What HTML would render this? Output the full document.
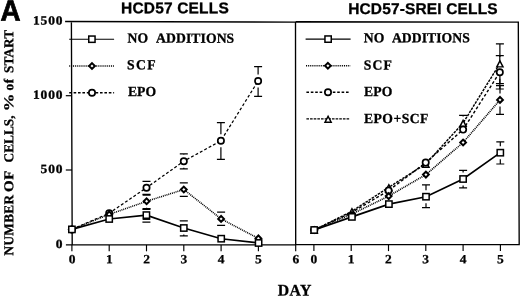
<!DOCTYPE html>
<html><head><meta charset="utf-8"><title>Figure A</title>
<style>html,body{margin:0;padding:0;background:#fff}svg{display:block}text{fill:#000;text-rendering:geometricPrecision}</style></head>
<body><svg width="520" height="296" viewBox="0 0 520 296">
<rect width="520" height="296" fill="#fff"/>
<path d="M65.1 21.5L295.7 22.1M295.7 21.7L518.3 22.1M71.4 21.5L72.2 244.9M65.9 244.9H295.7M295.7 244.6H519.2M518.3 21.5L519.2 245.2M295.5 21.8L295.7 244.9" fill="none" stroke="#000" stroke-width="1.35"/>
<path d="M65.8 170.00H72" stroke="#000" stroke-width="1.2"/>
<path d="M65.8 95.70H72" stroke="#000" stroke-width="1.2"/>
<path d="M71.90 244.9V251.3" stroke="#000" stroke-width="1.15"/>
<path d="M109.20 244.9V251.3" stroke="#000" stroke-width="1.15"/>
<path d="M146.50 244.9V251.3" stroke="#000" stroke-width="1.15"/>
<path d="M183.80 244.9V251.3" stroke="#000" stroke-width="1.15"/>
<path d="M221.10 244.9V251.3" stroke="#000" stroke-width="1.15"/>
<path d="M258.40 244.9V251.3" stroke="#000" stroke-width="1.15"/>
<path d="M295.70 244.9V251.3" stroke="#000" stroke-width="1.15"/>
<path d="M313.90 244.6V251.1" stroke="#000" stroke-width="1.15"/>
<path d="M351.20 244.6V251.1" stroke="#000" stroke-width="1.15"/>
<path d="M388.50 244.6V251.1" stroke="#000" stroke-width="1.15"/>
<path d="M425.80 244.6V251.1" stroke="#000" stroke-width="1.15"/>
<path d="M463.10 244.6V251.1" stroke="#000" stroke-width="1.15"/>
<path d="M500.40 244.6V251.1" stroke="#000" stroke-width="1.15"/>
<text transform="matrix(1.08 0.0005 0 1 63.364 247.9)" text-anchor="end" style='font-family:"Liberation Serif",serif;font-weight:bold;font-size:12.5px;letter-spacing:0.8px;stroke:#000;stroke-width:0.3px;' >0</text>
<text transform="matrix(1.08 0.0005 0 1 63.364 173.0)" text-anchor="end" style='font-family:"Liberation Serif",serif;font-weight:bold;font-size:12.5px;letter-spacing:0.8px;stroke:#000;stroke-width:0.3px;' >500</text>
<text transform="matrix(1.08 0.0005 0 1 63.364 98.7)" text-anchor="end" style='font-family:"Liberation Serif",serif;font-weight:bold;font-size:12.5px;letter-spacing:0.8px;stroke:#000;stroke-width:0.3px;' >1000</text>
<text transform="matrix(1.08 0.0005 0 1 63.364 24.5)" text-anchor="end" style='font-family:"Liberation Serif",serif;font-weight:bold;font-size:12.5px;letter-spacing:0.8px;stroke:#000;stroke-width:0.3px;' >1500</text>
<text transform="matrix(1.08 0.0005 0 1 72.0 263.3)" text-anchor="middle" style='font-family:"Liberation Serif",serif;font-weight:bold;font-size:12.5px;stroke:#000;stroke-width:0.25px;' >0</text>
<text transform="matrix(1.08 0.0005 0 1 109.3 263.3)" text-anchor="middle" style='font-family:"Liberation Serif",serif;font-weight:bold;font-size:12.5px;stroke:#000;stroke-width:0.25px;' >1</text>
<text transform="matrix(1.08 0.0005 0 1 146.6 263.3)" text-anchor="middle" style='font-family:"Liberation Serif",serif;font-weight:bold;font-size:12.5px;stroke:#000;stroke-width:0.25px;' >2</text>
<text transform="matrix(1.08 0.0005 0 1 183.9 263.3)" text-anchor="middle" style='font-family:"Liberation Serif",serif;font-weight:bold;font-size:12.5px;stroke:#000;stroke-width:0.25px;' >3</text>
<text transform="matrix(1.08 0.0005 0 1 221.2 263.3)" text-anchor="middle" style='font-family:"Liberation Serif",serif;font-weight:bold;font-size:12.5px;stroke:#000;stroke-width:0.25px;' >4</text>
<text transform="matrix(1.08 0.0005 0 1 258.5 263.3)" text-anchor="middle" style='font-family:"Liberation Serif",serif;font-weight:bold;font-size:12.5px;stroke:#000;stroke-width:0.25px;' >5</text>
<text transform="matrix(1.08 0.0005 0 1 295.8 263.3)" text-anchor="middle" style='font-family:"Liberation Serif",serif;font-weight:bold;font-size:12.5px;stroke:#000;stroke-width:0.25px;' >6</text>
<text transform="matrix(1.08 0.0005 0 1 313.8 263.3)" text-anchor="middle" style='font-family:"Liberation Serif",serif;font-weight:bold;font-size:12.5px;stroke:#000;stroke-width:0.25px;' >0</text>
<text transform="matrix(1.08 0.0005 0 1 351.1 263.3)" text-anchor="middle" style='font-family:"Liberation Serif",serif;font-weight:bold;font-size:12.5px;stroke:#000;stroke-width:0.25px;' >1</text>
<text transform="matrix(1.08 0.0005 0 1 388.4 263.3)" text-anchor="middle" style='font-family:"Liberation Serif",serif;font-weight:bold;font-size:12.5px;stroke:#000;stroke-width:0.25px;' >2</text>
<text transform="matrix(1.08 0.0005 0 1 425.7 263.3)" text-anchor="middle" style='font-family:"Liberation Serif",serif;font-weight:bold;font-size:12.5px;stroke:#000;stroke-width:0.25px;' >3</text>
<text transform="matrix(1.08 0.0005 0 1 463.0 263.3)" text-anchor="middle" style='font-family:"Liberation Serif",serif;font-weight:bold;font-size:12.5px;stroke:#000;stroke-width:0.25px;' >4</text>
<text transform="matrix(1.08 0.0005 0 1 500.3 263.3)" text-anchor="middle" style='font-family:"Liberation Serif",serif;font-weight:bold;font-size:12.5px;stroke:#000;stroke-width:0.25px;' >5</text>
<text transform="matrix(0.94 0.0005 0 1 0.6 20.5)" text-anchor="start" style='font-family:"Liberation Sans",sans-serif;font-weight:bold;font-size:29.5px;stroke:#000;stroke-width:0.75px;' >A</text>
<text transform="matrix(1 0.0005 0 1 121.1 13.25)" text-anchor="start" style='font-family:"Liberation Sans",sans-serif;font-weight:bold;font-size:15.5px;letter-spacing:0.17px;stroke:#000;stroke-width:0.3px;' >HCD57 CELLS</text>
<text transform="matrix(1 0.0005 0 1 348.2 14.0)" text-anchor="start" style='font-family:"Liberation Sans",sans-serif;font-weight:bold;font-size:15.5px;letter-spacing:0.14px;stroke:#000;stroke-width:0.3px;' >HCD57-SREI CELLS</text>
<text transform="matrix(0.98 0.0005 0 1 277.7 295.6)" text-anchor="start" style='font-family:"Liberation Serif",serif;font-weight:bold;font-size:16.1px;letter-spacing:0.45px;stroke:#000;stroke-width:0.3px;' >DAY</text>
<g transform="translate(13.3 256.0) rotate(-90)"><text transform="matrix(0.98 0.0005 0 1 0.6 0)" text-anchor="start" style='font-family:"Liberation Serif",serif;font-weight:bold;font-size:13.55px;letter-spacing:0.3px;stroke:#000;stroke-width:0.28px;' >NUMBER</text><text transform="matrix(1.1074 0.0005 0 1 64.1 0)" text-anchor="start" style='font-family:"Liberation Serif",serif;font-weight:bold;font-size:13.55px;letter-spacing:0.5px;stroke:#000;stroke-width:0.28px;' >OF</text><text transform="matrix(0.98 0.0005 0 1 93.6 0)" text-anchor="start" style='font-family:"Liberation Serif",serif;font-weight:bold;font-size:13.55px;stroke:#000;stroke-width:0.28px;' >CELLS,</text><text transform="matrix(1.3034000000000001 0.0005 0 1 144.7 0)" text-anchor="start" style='font-family:"Liberation Serif",serif;font-weight:bold;font-size:13.55px;stroke:#000;stroke-width:0.28px;' >%</text><text transform="matrix(0.98 0.0005 0 1 165.4 0)" text-anchor="start" style='font-family:"Liberation Serif",serif;font-weight:bold;font-size:13.55px;letter-spacing:0.6px;stroke:#000;stroke-width:0.28px;' >of</text><text transform="matrix(0.98 0.0005 0 1 182.9 0)" text-anchor="start" style='font-family:"Liberation Serif",serif;font-weight:bold;font-size:13.55px;letter-spacing:0.1px;stroke:#000;stroke-width:0.28px;' >START</text></g>
<path d="M69.2 39.2H114.1" fill="none" stroke="#000" stroke-width="1.1" />
<rect x="88.75" y="36.05" width="6.30" height="6.30" fill="#fff" stroke="#000" stroke-width="1.5"/>
<text transform="matrix(0.99 0.0005 0 1 127.6 42.6)" text-anchor="start" style='font-family:"Liberation Serif",serif;font-weight:bold;font-size:13.8px;letter-spacing:0.1px;word-spacing:5.0px;stroke:#000;stroke-width:0.28px;' >NO ADDITIONS</text>
<path d="M69.2 66.0H114.1" fill="none" stroke="#000" stroke-width="1.55" stroke-dasharray="1 0.9"/>
<path d="M92.00 63.11L94.89 66.00L92.00 68.89L89.11 66.00Z" fill="#fff" stroke="#000" stroke-width="2.0"/>
<text transform="matrix(0.99 0.0005 0 1 127.0 69.3)" text-anchor="start" style='font-family:"Liberation Serif",serif;font-weight:bold;font-size:13.8px;letter-spacing:1.35px;stroke:#000;stroke-width:0.28px;' >SCF</text>
<path d="M69.2 92.7H114.1" fill="none" stroke="#000" stroke-width="1.4" stroke-dasharray="2.6 1.8"/>
<circle cx="92.00" cy="92.70" r="3.15" fill="#fff" stroke="#000" stroke-width="1.7"/>
<text transform="matrix(0.99 0.0005 0 1 127.9 96.1)" text-anchor="start" style='font-family:"Liberation Serif",serif;font-weight:bold;font-size:13.8px;letter-spacing:0.1px;stroke:#000;stroke-width:0.28px;' >EPO</text>
<path d="M305.6 39.1H350.6" fill="none" stroke="#000" stroke-width="1.1" />
<rect x="324.95" y="35.95" width="6.30" height="6.30" fill="#fff" stroke="#000" stroke-width="1.5"/>
<text transform="matrix(0.99 0.0005 0 1 363.8 42.25)" text-anchor="start" style='font-family:"Liberation Serif",serif;font-weight:bold;font-size:13.8px;letter-spacing:0.05px;word-spacing:4.9px;stroke:#000;stroke-width:0.28px;' >NO ADDITIONS</text>
<path d="M306 65.8H350.2" fill="none" stroke="#000" stroke-width="1.55" stroke-dasharray="1 0.9"/>
<path d="M327.90 62.91L330.79 65.80L327.90 68.69L325.01 65.80Z" fill="#fff" stroke="#000" stroke-width="2.0"/>
<text transform="matrix(0.99 0.0005 0 1 363.7 69.45)" text-anchor="start" style='font-family:"Liberation Serif",serif;font-weight:bold;font-size:13.8px;letter-spacing:1.15px;stroke:#000;stroke-width:0.28px;' >SCF</text>
<path d="M306.4 92.3H349" fill="none" stroke="#000" stroke-width="1.4" stroke-dasharray="2.6 1.8"/>
<circle cx="328.00" cy="92.30" r="3.15" fill="#fff" stroke="#000" stroke-width="1.7"/>
<text transform="matrix(0.99 0.0005 0 1 364 96.0)" text-anchor="start" style='font-family:"Liberation Serif",serif;font-weight:bold;font-size:13.8px;letter-spacing:0.1px;stroke:#000;stroke-width:0.28px;' >EPO</text>
<path d="M306.4 118.9H350.2" fill="none" stroke="#000" stroke-width="1.3" stroke-dasharray="2.6 1.05"/>
<path d="M328.10 116.31L331.20 122.25L325.00 122.25Z" fill="#fff" stroke="#000" stroke-width="1.45" stroke-linejoin="miter"/>
<text transform="matrix(0.99 0.0005 0 1 364 122.9)" text-anchor="start" style='font-family:"Liberation Serif",serif;font-weight:bold;font-size:13.8px;letter-spacing:0.45px;stroke:#000;stroke-width:0.28px;' >EPO+SCF</text>
<path d="M71.90 229.40L109.20 213.20L146.50 187.70L183.80 161.20L220.90 140.80L258.10 81.00" fill="none" stroke="#000" stroke-width="1.25" stroke-dasharray="2.9 2.1"/>
<path d="M71.90 229.40L109.20 214.40L146.60 201.30L183.80 189.50L221.10 218.90L258.40 238.40" fill="none" stroke="#000" stroke-width="1.55" stroke-dasharray="1 0.9"/>
<path d="M71.90 229.40L109.20 219.00L146.40 215.10L183.80 228.00L221.20 238.70L258.60 243.00" fill="none" stroke="#000" stroke-width="1.65" />
<path d="M142.50 181.30h8.0M142.50 194.30h8.0M146.50 194.30V194.20" fill="none" stroke="#000" stroke-width="1.2"/>
<path d="M179.80 153.90h8.0M183.80 153.90V154.70M179.80 168.80h8.0M183.80 168.80V167.70" fill="none" stroke="#000" stroke-width="1.2"/>
<path d="M216.90 122.60h8.0M220.90 122.60V134.30M216.90 159.30h8.0M220.90 159.30V147.30" fill="none" stroke="#000" stroke-width="1.2"/>
<path d="M254.10 66.60h8.0M258.10 66.60V74.50M254.10 96.40h8.0M258.10 96.40V87.50" fill="none" stroke="#000" stroke-width="1.2"/>
<path d="M142.60 195.20h8.0M142.60 208.60h8.0M146.60 208.60V207.80" fill="none" stroke="#000" stroke-width="1.2"/>
<path d="M179.80 182.90h8.0M183.80 182.90V183.00M179.80 196.30h8.0M183.80 196.30V196.00" fill="none" stroke="#000" stroke-width="1.2"/>
<path d="M217.10 212.10h8.0M221.10 212.10V212.40M217.10 225.30h8.0" fill="none" stroke="#000" stroke-width="1.2"/>
<path d="M142.40 209.40h8.0M142.40 222.20h8.0M146.40 222.20V221.60" fill="none" stroke="#000" stroke-width="1.2"/>
<path d="M179.80 220.90h8.0M183.80 220.90V221.50M179.80 235.80h8.0M183.80 235.80V234.50" fill="none" stroke="#000" stroke-width="1.2"/>
<circle cx="71.90" cy="229.40" r="3.15" fill="#fff" stroke="#000" stroke-width="1.7"/>
<circle cx="109.20" cy="213.20" r="3.15" fill="#fff" stroke="#000" stroke-width="1.7"/>
<circle cx="146.50" cy="187.70" r="3.15" fill="#fff" stroke="#000" stroke-width="1.7"/>
<circle cx="183.80" cy="161.20" r="3.15" fill="#fff" stroke="#000" stroke-width="1.7"/>
<circle cx="220.90" cy="140.80" r="3.15" fill="#fff" stroke="#000" stroke-width="1.7"/>
<circle cx="258.10" cy="81.00" r="3.15" fill="#fff" stroke="#000" stroke-width="1.7"/>
<path d="M71.90 226.51L74.79 229.40L71.90 232.29L69.01 229.40Z" fill="#fff" stroke="#000" stroke-width="2.0"/>
<path d="M109.20 211.51L112.09 214.40L109.20 217.29L106.31 214.40Z" fill="#fff" stroke="#000" stroke-width="2.0"/>
<path d="M146.60 198.41L149.49 201.30L146.60 204.19L143.71 201.30Z" fill="#fff" stroke="#000" stroke-width="2.0"/>
<path d="M183.80 186.61L186.69 189.50L183.80 192.39L180.91 189.50Z" fill="#fff" stroke="#000" stroke-width="2.0"/>
<path d="M221.10 216.01L223.99 218.90L221.10 221.79L218.21 218.90Z" fill="#fff" stroke="#000" stroke-width="2.0"/>
<path d="M258.40 235.51L261.29 238.40L258.40 241.29L255.51 238.40Z" fill="#fff" stroke="#000" stroke-width="2.0"/>
<rect x="68.75" y="226.25" width="6.30" height="6.30" fill="#fff" stroke="#000" stroke-width="1.5"/>
<rect x="106.05" y="215.85" width="6.30" height="6.30" fill="#fff" stroke="#000" stroke-width="1.5"/>
<rect x="143.25" y="211.95" width="6.30" height="6.30" fill="#fff" stroke="#000" stroke-width="1.5"/>
<rect x="180.65" y="224.85" width="6.30" height="6.30" fill="#fff" stroke="#000" stroke-width="1.5"/>
<rect x="218.05" y="235.55" width="6.30" height="6.30" fill="#fff" stroke="#000" stroke-width="1.5"/>
<rect x="255.45" y="239.85" width="6.30" height="6.30" fill="#fff" stroke="#000" stroke-width="1.5"/>
<path d="M142.6 219.4h7.7" stroke="#000" stroke-width="1.1"/>
<path d="M314.20 230.00L351.90 211.30L388.80 187.30L425.90 163.80L463.10 123.00L499.90 63.50" fill="none" stroke="#000" stroke-width="1.45" stroke-dasharray="2.6 1.05"/>
<path d="M314.20 230.00L351.90 212.40L388.60 190.60L425.70 162.60L463.10 129.60L499.80 72.20" fill="none" stroke="#000" stroke-width="1.4" stroke-dasharray="2.9 2.1"/>
<path d="M314.20 230.00L351.90 214.00L388.70 196.10L425.90 174.60L463.10 142.50L500.00 99.90" fill="none" stroke="#000" stroke-width="1.65" stroke-dasharray="1 0.9"/>
<path d="M314.20 230.00L351.90 216.90L388.90 204.10L426.00 196.70L463.10 179.00L500.30 152.70" fill="none" stroke="#000" stroke-width="1.65" />
<path d="M459.10 115.30h8.0M463.10 115.30V116.50" fill="none" stroke="#000" stroke-width="1.2"/>
<path d="M495.90 43.80h8.0M499.90 43.80V57.00M495.90 83.70h8.0M499.90 83.70V70.00" fill="none" stroke="#000" stroke-width="1.2"/>
<path d="M495.80 55.70h8.0M499.80 55.70V65.70M495.80 89.00h8.0M499.80 89.00V78.70" fill="none" stroke="#000" stroke-width="1.2"/>
<path d="M496.00 85.60h8.0M500.00 85.60V93.40M496.00 114.30h8.0M500.00 114.30V106.40" fill="none" stroke="#000" stroke-width="1.2"/>
<path d="M422.00 184.80h8.0M426.00 184.80V190.20M422.00 207.60h8.0M426.00 207.60V203.20" fill="none" stroke="#000" stroke-width="1.2"/>
<path d="M459.10 170.30h8.0M463.10 170.30V172.50M459.10 187.80h8.0M463.10 187.80V185.50" fill="none" stroke="#000" stroke-width="1.2"/>
<path d="M496.30 141.90h8.0M500.30 141.90V146.20M496.30 164.00h8.0M500.30 164.00V159.20" fill="none" stroke="#000" stroke-width="1.2"/>
<path d="M314.20 227.41L317.30 233.35L311.10 233.35Z" fill="#fff" stroke="#000" stroke-width="1.45" stroke-linejoin="miter"/>
<path d="M351.90 208.71L355.00 214.65L348.80 214.65Z" fill="#fff" stroke="#000" stroke-width="1.45" stroke-linejoin="miter"/>
<path d="M388.80 184.71L391.90 190.65L385.70 190.65Z" fill="#fff" stroke="#000" stroke-width="1.45" stroke-linejoin="miter"/>
<path d="M425.90 161.21L429.00 167.15L422.80 167.15Z" fill="#fff" stroke="#000" stroke-width="1.45" stroke-linejoin="miter"/>
<path d="M463.10 120.41L466.20 126.35L460.00 126.35Z" fill="#fff" stroke="#000" stroke-width="1.45" stroke-linejoin="miter"/>
<path d="M499.90 60.91L503.00 66.85L496.80 66.85Z" fill="#fff" stroke="#000" stroke-width="1.45" stroke-linejoin="miter"/>
<circle cx="314.20" cy="230.00" r="3.15" fill="#fff" stroke="#000" stroke-width="1.7"/>
<circle cx="351.90" cy="215.40" r="3.15" fill="#fff" stroke="#000" stroke-width="1.7"/>
<circle cx="388.60" cy="190.60" r="3.15" fill="#fff" stroke="#000" stroke-width="1.7"/>
<circle cx="425.70" cy="162.60" r="3.15" fill="#fff" stroke="#000" stroke-width="1.7"/>
<circle cx="463.10" cy="129.60" r="3.15" fill="#fff" stroke="#000" stroke-width="1.7"/>
<circle cx="499.80" cy="72.20" r="3.15" fill="#fff" stroke="#000" stroke-width="1.7"/>
<path d="M314.20 227.11L317.09 230.00L314.20 232.89L311.31 230.00Z" fill="#fff" stroke="#000" stroke-width="2.0"/>
<path d="M351.90 212.31L354.79 215.20L351.90 218.09L349.01 215.20Z" fill="#fff" stroke="#000" stroke-width="2.0"/>
<path d="M388.70 193.21L391.59 196.10L388.70 198.99L385.81 196.10Z" fill="#fff" stroke="#000" stroke-width="2.0"/>
<path d="M425.90 171.71L428.79 174.60L425.90 177.49L423.01 174.60Z" fill="#fff" stroke="#000" stroke-width="2.0"/>
<path d="M463.10 139.61L465.99 142.50L463.10 145.39L460.21 142.50Z" fill="#fff" stroke="#000" stroke-width="2.0"/>
<path d="M500.00 97.01L502.89 99.90L500.00 102.79L497.11 99.90Z" fill="#fff" stroke="#000" stroke-width="2.0"/>
<rect x="311.05" y="226.85" width="6.30" height="6.30" fill="#fff" stroke="#000" stroke-width="1.5"/>
<rect x="348.75" y="213.75" width="6.30" height="6.30" fill="#fff" stroke="#000" stroke-width="1.5"/>
<rect x="385.75" y="200.95" width="6.30" height="6.30" fill="#fff" stroke="#000" stroke-width="1.5"/>
<rect x="422.85" y="193.55" width="6.30" height="6.30" fill="#fff" stroke="#000" stroke-width="1.5"/>
<rect x="459.95" y="175.85" width="6.30" height="6.30" fill="#fff" stroke="#000" stroke-width="1.5"/>
<rect x="497.15" y="149.55" width="6.30" height="6.30" fill="#fff" stroke="#000" stroke-width="1.5"/>
</svg></body></html>
